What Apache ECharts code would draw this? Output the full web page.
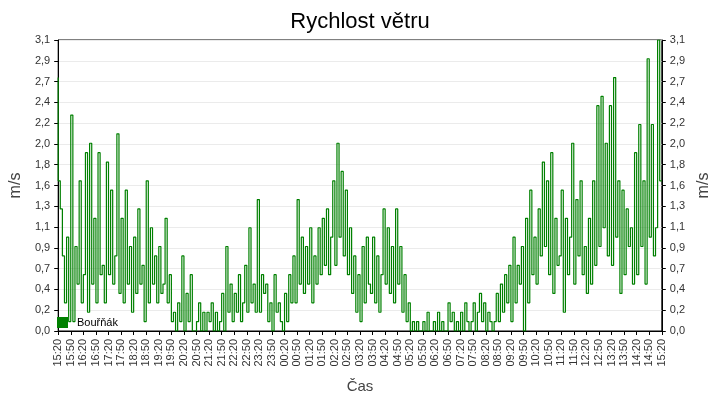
<!DOCTYPE html>
<html><head><meta charset="utf-8">
<script src="https://cdn.jsdelivr.net/npm/echarts@6/dist/echarts.min.js"></script>
<style>html,body{margin:0;padding:0;background:#fff}#c{width:720px;height:400px}</style>
</head><body><div id="c"></div>
<script>
const seriesName = "Bouřňák";
const startTime = "15:20";
const stepMinutes = 5;
const windSpeed = [
2.7,1.6,1.3,0.8,0.3,1.0, 0.1,2.3,0.1,0.9,0.5,1.6, 0.3,0.6,1.9,0.2,2.0,0.5, 1.2,0.3,1.9,0.6,0.7,0.3,
1.8,0.6,1.5,0.5,0.8,2.1, 0.4,1.2,0.3,1.5,0.5,0.9, 0.2,1.0,0.4,1.3,0.5,0.7, 0.1,1.6,0.3,1.1,0.5,0.8,
0.3,0.9,0.4,0.5,1.2,0.3, 0.6,0.1,0.2,0.0,0.3,0.1, 0.8,0.0,0.4,0.1,0.6,0.0, 0.0,0.1,0.3,0.0,0.2,0.0,
0.2,0.1,0.3,0.0,0.2,0.0, 0.1,0.4,0.0,0.9,0.2,0.5, 0.1,0.4,0.2,0.6,0.1,0.3, 0.7,0.2,1.1,0.3,0.5,0.2,
1.4,0.2,0.6,0.4,0.5,0.1, 0.3,0.0,0.6,0.2,0.3,0.1, 0.0,0.4,0.1,0.6,0.3,0.8, 0.3,1.4,0.5,1.0,0.4,0.9,
0.5,1.1,0.3,0.8,0.5,1.1, 0.6,1.2,0.7,1.3,0.6,1.0, 1.6,0.7,2.0,1.0,1.7,0.8, 1.5,0.6,1.1,0.4,0.8,0.2,
0.6,0.1,0.9,0.3,1.0,0.5, 0.4,1.0,0.3,0.8,0.2,0.6, 1.3,0.5,1.1,0.4,0.9,0.3, 1.3,0.5,0.9,0.2,0.6,0.1,
0.3,0.0,0.1,0.0,0.1,0.0, 0.0,0.1,0.0,0.2,0.0,0.0, 0.1,0.0,0.2,0.0,0.1,0.0, 0.0,0.3,0.1,0.2,0.0,0.1,
0.0,0.2,0.0,0.3,0.1,0.0, 0.1,0.3,0.0,0.2,0.4,0.1, 0.3,0.0,0.2,0.1,0.0,0.1, 0.4,0.1,0.5,0.2,0.6,0.3,
0.7,0.1,1.0,0.3,0.7,0.5, 0.9,0.0,1.2,0.3,1.5,0.6, 1.0,0.5,1.3,0.8,1.8,0.9, 1.6,0.6,1.9,0.4,1.2,0.7,
0.8,1.5,0.2,1.2,0.6,1.0, 2.0,0.5,1.4,0.8,1.6,0.6, 0.9,0.4,1.2,0.5,1.6,0.7, 2.4,0.9,2.5,1.1,2.0,0.8,
2.4,0.7,2.7,1.0,1.6,0.4, 1.5,0.6,1.3,0.9,1.1,0.5, 1.9,0.6,2.2,0.9,1.6,0.5, 2.9,1.0,2.2,0.8,1.1,3.1,
1.6];
const yTickCount = 14;
const yMax = 3.1;

const times = [];
let [h, m] = startTime.split(':').map(Number);
for (let i = 0; i < windSpeed.length; i++) {
  times.push(String(h).padStart(2,'0') + ':' + String(m).padStart(2,'0'));
  m += stepMinutes; if (m >= 60) { m -= 60; h = (h + 1) % 24; }
}
const fmt = v => v.toFixed(1).replace('.', ',');
const yAxisBase = {
  type: 'value', min: 0, max: yMax, interval: yMax / yTickCount,
  name: 'm/s', nameLocation: 'middle', nameRotate: 90,
  nameTextStyle: {fontSize: 16, color: '#444', fontFamily: 'Liberation Sans'},
  axisLine: {show: true, lineStyle: {color: '#000'}},
  axisTick: {show: true, length: 4, lineStyle: {color: '#000'}},
  axisLabel: {formatter: fmt, fontSize: 11, color: '#333', fontFamily: 'Liberation Sans'},
};
const chart = echarts.init(document.getElementById('c'));
chart.setOption({
  animation: false,
  title: {text: 'Rychlost větru', left: 'center', top: 6,
    textStyle: {fontSize: 22, fontWeight: 'normal', color: '#000', fontFamily: 'Liberation Sans'}},
  legend: {left: 52, top: 312, itemWidth: 11, itemHeight: 11, itemGap: 10, icon: 'rect',
    textStyle: {fontSize: 11, color: '#000', fontFamily: 'Liberation Sans', padding: [0,0,0,4]},
    data: [seriesName]},
  grid: {left: 48, right: 48, top: 40, bottom: 69, show: true, borderColor: '#000', borderWidth: 1},
  xAxis: {type: 'category', data: times, boundaryGap: false,
    name: 'Čas', nameLocation: 'middle', nameGap: 48,
    nameTextStyle: {fontSize: 15, color: '#444', fontFamily: 'Liberation Sans'},
    axisLine: {lineStyle: {color: '#000'}},
    axisTick: {interval: 5, length: 4, lineStyle: {color: '#000'}},
    axisLabel: {interval: 5, rotate: 90, fontSize: 11, color: '#333', fontFamily: 'Liberation Sans'},
    splitLine: {show: false}},
  yAxis: [
    Object.assign({}, yAxisBase, {position: 'left', nameGap: 30,
      splitLine: {show: true, lineStyle: {color: '#ebebeb'}}}),
    Object.assign({}, yAxisBase, {position: 'right', nameGap: 30, splitLine: {show: false}})
  ],
  series: [{name: seriesName, type: 'line', data: windSpeed, symbol: 'none', step: 'start',
    itemStyle: {color: '#008000'}, lineStyle: {color: '#008000', width: 1.2}}]
});
</script></body></html>
